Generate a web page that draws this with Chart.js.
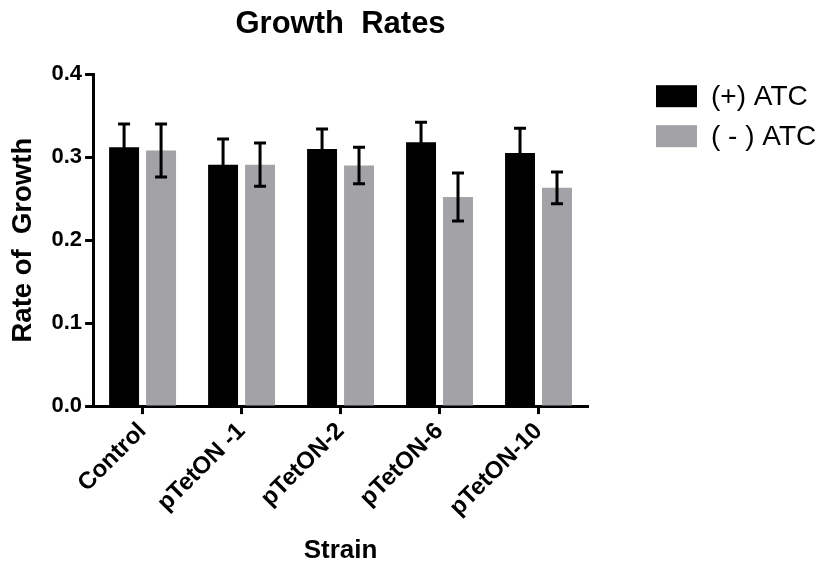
<!DOCTYPE html>
<html>
<head>
<meta charset="utf-8">
<script src="https://cdn.jsdelivr.net/npm/chart.js@4.4.1/dist/chart.umd.min.js"></script>
<style>
  html, body { margin: 0; padding: 0; background: #fff; }
  #wrap { width: 822px; height: 569px; position: relative; }
</style>
</head>
<body>
<div id="wrap"><canvas id="growth"></canvas></div>
<script>
// values
const strains = ['Control', 'pTetON -1', 'pTetON-2', 'pTetON-6', 'pTetON-10'];
const plusAtc = [0.312, 0.291, 0.310, 0.318, 0.305];
const plusAtcErr = [0.028, 0.031, 0.024, 0.024, 0.030];
const minusAtc = [0.308, 0.291, 0.290, 0.252, 0.263];
const minusAtcErr = [0.032, 0.026, 0.022, 0.029, 0.019];
const yTicks = [0.0, 0.1, 0.2, 0.3, 0.4];

Chart.defaults.font.family = "'Liberation Sans', Arial, sans-serif";
Chart.defaults.color = '#000';

// SEM whiskers drawn on top of each bar
const errorBars = {
  id: 'errorBars',
  afterDatasetsDraw(chart) {
    const { ctx } = chart;
    const yScale = chart.scales.y;
    ctx.save();
    ctx.strokeStyle = '#000';
    ctx.lineWidth = 3;
    chart.data.datasets.forEach((ds, i) => {
      const meta = chart.getDatasetMeta(i);
      meta.data.forEach((bar, j) => {
        const v = ds.data[j];
        const e = ds.errors[j];
        const top = yScale.getPixelForValue(v + e);
        const bot = yScale.getPixelForValue(v - e);
        const half = 6;
        ctx.beginPath();
        ctx.moveTo(bar.x, top);
        ctx.lineTo(bar.x, bot);
        ctx.moveTo(bar.x - half, top);
        ctx.lineTo(bar.x + half, top);
        ctx.moveTo(bar.x - half, bot);
        ctx.lineTo(bar.x + half, bot);
        ctx.stroke();
      });
    });
    ctx.restore();
  }
};

// legend sitting to the right of the plot, like the prism export
const sideLegend = {
  id: 'sideLegend',
  afterDraw(chart) {
    const { ctx, chartArea } = chart;
    const x0 = chartArea.right + 68;
    const y0 = chartArea.top + 11;
    ctx.save();
    ctx.font = "28px 'Liberation Sans', Arial, sans-serif";
    ctx.textBaseline = 'middle';
    chart.data.datasets.forEach((ds, i) => {
      const y = y0 + i * 40;
      ctx.fillStyle = ds.backgroundColor;
      ctx.fillRect(x0, y, 41, 22);
      ctx.fillStyle = '#000';
      ctx.fillText(ds.label, x0 + 55, y + 12);
    });
    ctx.restore();
  }
};

new Chart(document.getElementById('growth'), {
  type: 'bar',
  data: {
    labels: strains,
    datasets: [
      { label: '(+) ATC', data: plusAtc, errors: plusAtcErr, backgroundColor: '#000000' },
      { label: '( - ) ATC', data: minusAtc, errors: minusAtcErr, backgroundColor: '#a3a2a7' }
    ]
  },
  options: {
    responsive: true,
    maintainAspectRatio: false,
    animation: false,
    categoryPercentage: 0.747,
    barPercentage: 0.81,
    layout: { padding: { left: 2, right: 234, top: 0, bottom: 0 } },
    plugins: {
      legend: { display: false },
      tooltip: { enabled: false },
      title: {
        display: true,
        text: 'Growth  Rates',
        fullSize: false,
        font: { size: 31, weight: 'bold' },
        padding: { top: 6, bottom: 31 }
      }
    },
    scales: {
      x: {
        grid: { display: true, drawOnChartArea: false, offset: false, tickLength: 8, tickWidth: 3, tickColor: '#000' },
        border: { display: true, width: 3, color: '#000' },
        ticks: {
          autoSkip: false,
          maxRotation: 45,
          minRotation: 45,
          padding: 3,
          font: { size: 24, weight: 'bold' }
        },
        title: {
          display: true,
          text: 'Strain',
          font: { size: 26, weight: 'bold', lineHeight: 1 },
          padding: { top: 13, bottom: 5 }
        }
      },
      y: {
        min: 0,
        max: 0.4,
        afterBuildTicks(scale) {
          scale.ticks = yTicks.map(v => ({ value: v }));
        },
        grid: { display: true, drawOnChartArea: false, tickLength: 8, tickWidth: 3, tickColor: '#000' },
        border: { display: true, width: 3, color: '#000' },
        ticks: {
          padding: 3,
          font: { size: 22, weight: 'bold' },
          callback: v => Number(v).toFixed(1)
        },
        title: {
          display: true,
          text: 'Rate of  Growth',
          font: { size: 27.5, weight: 'bold', lineHeight: 1 },
          padding: { top: 8, bottom: 11 }
        }
      }
    }
  },
  plugins: [errorBars, sideLegend]
});
</script>
</body>
</html>
